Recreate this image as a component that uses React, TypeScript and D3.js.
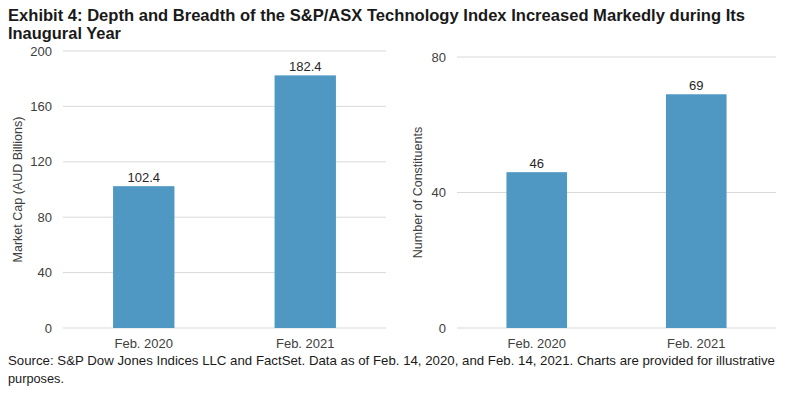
import { useMemo } from 'react';
import * as d3 from 'd3';

const CATEGORIES = ['Feb. 2020', 'Feb. 2021'];
const MARKET_CAP = [102.4, 182.4];
const CONSTITUENTS = [46, 69];
const CAP_TICKS = [0, 40, 80, 120, 160, 200];
const COUNT_TICKS = [0, 40, 80];

const TITLE_LINES = [
  'Exhibit 4: Depth and Breadth of the S&P/ASX Technology Index Increased Markedly during Its',
  'Inaugural Year',
];
const SOURCE_LINES = [
  'Source: S&P Dow Jones Indices LLC and FactSet. Data as of Feb. 14, 2020, and Feb. 14, 2021. Charts are provided for illustrative',
  'purposes.',
];

const W = 788;
const H = 396;
const BAR = '#4f98c3';
const GRID = '#d9d9d9';
const TEXT = '#404040';

interface PanelProps {
  values: number[];
  ticks: number[];
  label: string;
  fmt: (v: number) => string;
  x0: number;
  x1: number;
  top: number;
  bottom: number;
  labelX: number;
}

function Panel({ values, ticks, label, fmt, x0, x1, top, bottom, labelX }: PanelProps) {
  const { x, y } = useMemo(() => {
    const x = d3.scaleBand<string>().domain(CATEGORIES).range([x0, x1]).paddingInner(0.62).paddingOuter(0.31);
    const y = d3.scaleLinear().domain([0, ticks[ticks.length - 1]]).range([bottom, top]);
    return { x, y };
  }, [ticks, x0, x1, top, bottom]);

  return (
    <g>
      {/* grid + y tick labels */}
      {ticks.map((t) => (
        <g key={t}>
          <line x1={x0} x2={x1} y1={y(t)} y2={y(t)} stroke={GRID} strokeWidth={1} />
          <text x={x0 - 11} y={y(t)} dy="0.35em" textAnchor="end" fontSize={13} fill={TEXT}>
            {t}
          </text>
        </g>
      ))}

      {values.map((v, i) => {
        const c = CATEGORIES[i];
        const bx = x(c) ?? 0;
        return (
          <g key={c}>
            <rect x={bx} y={y(v)} width={x.bandwidth()} height={bottom - y(v)} fill={BAR} />
            <text x={bx + x.bandwidth() / 2} y={y(v) - 4} textAnchor="middle" fontSize={13} fill="#262626">
              {fmt(v)}
            </text>
            <text x={bx + x.bandwidth() / 2} y={bottom + 20} textAnchor="middle" fontSize={13} fill={TEXT}>
              {c}
            </text>
          </g>
        );
      })}

      <text
        transform={`translate(${labelX},${(top + bottom) / 2}) rotate(-90)`}
        textAnchor="middle"
        dy="0.35em"
        fontSize={12.5}
        fill={TEXT}
      >
        {label}
      </text>
    </g>
  );
}

export default function App() {
  return (
    <div style={{ position: 'absolute', left: 0, top: 0, width: W, height: H, background: '#fff' }}>
      <svg width={W} height={H} style={{ display: 'block' }} fontFamily="Arial, 'Liberation Sans', sans-serif">
        <rect width={W} height={H} fill="#fff" />
        {TITLE_LINES.map((t, i) => (
          <text
            key={i}
            x={8}
            y={21 + i * 18}
            fontSize={17}
            fontWeight="bold"
            fill="#1a1a1a"
            textLength={i === 0 ? 737 : 113}
            lengthAdjust="spacingAndGlyphs"
          >
            {t}
          </text>
        ))}

        <Panel
          values={MARKET_CAP}
          ticks={CAP_TICKS}
          label="Market Cap (AUD Billions)"
          fmt={(v) => v.toFixed(1)}
          x0={63}
          x1={386}
          top={51}
          bottom={328}
          labelX={18}
        />
        <Panel
          values={CONSTITUENTS}
          ticks={COUNT_TICKS}
          label="Number of Constituents"
          fmt={(v) => String(v)}
          x0={457}
          x1={776}
          top={57}
          bottom={328}
          labelX={418}
        />

        {SOURCE_LINES.map((t, i) => (
          <text
            key={i}
            x={8}
            y={365 + i * 18}
            fontSize={13}
            fill="#1a1a1a"
            textLength={i === 0 ? 767 : 56}
            lengthAdjust="spacingAndGlyphs"
          >
            {t}
          </text>
        ))}
      </svg>
    </div>
  );
}
